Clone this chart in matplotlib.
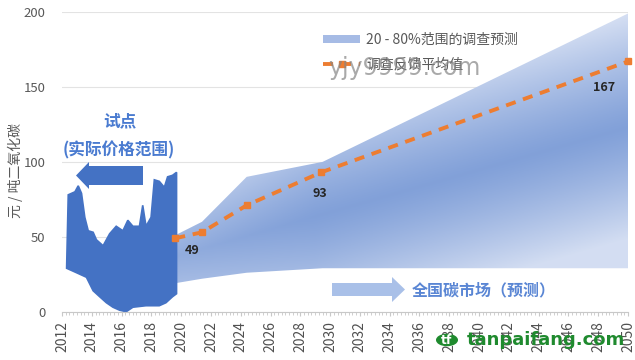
import numpy as np
import matplotlib
matplotlib.use('Agg')
import matplotlib.pyplot as plt
from matplotlib.patches import Polygon, Patch, Circle
from matplotlib.lines import Line2D
from matplotlib.ticker import MultipleLocator

plt.rcParams['font.family'] = ['Noto Sans CJK SC', 'DejaVu Sans']

# ---------------- data ----------------
pilot_hi_years = [2012.31, 2012.42, 2012.87, 2013.09, 2013.31, 2013.53, 2013.76, 2014.09,
                  2014.31, 2014.76, 2015.20, 2015.64, 2016.09, 2016.42, 2016.76, 2017.20,
                  2017.42, 2017.64, 2017.98, 2018.20, 2018.53, 2018.87, 2019.09, 2019.42, 2019.69]
pilot_hi = [29, 78, 80, 84, 79, 63, 54, 53, 48, 44, 52, 57, 54, 61, 57, 57, 71, 57, 63, 88,
            87, 83, 90, 91, 93]
pilot_lo_years = [2012.31, 2012.98, 2013.64, 2014.09, 2014.53, 2014.98, 2015.42, 2015.87,
                  2016.31, 2016.76, 2017.64, 2018.53, 2018.98, 2019.42, 2019.69]
pilot_lo = [29, 26, 23, 14, 10, 6, 3, 1, 0, 3, 4, 4, 6, 10, 12]

band_years = [2019.6, 2021.4, 2024.4, 2029.5, 2050]
band_low = [19, 22, 26, 29, 29]
band_high = [51, 60, 90, 100, 199]

mean_years = [2019.6, 2021.4, 2024.4, 2029.4, 2050]
mean_values = [49, 53, 71, 93, 167]
labelled_points = [0, 3, 4]

xticks = list(range(2012, 2051, 2))
yticks = [0, 50, 100, 150, 200]

legend_band = '20 - 80%范围的调查预测'
legend_mean = '调查反馈平均值'
y_label = '元 / 吨二氧化碳'
pilot_title = '试点'
pilot_sub = '(实际价格范围)'
national_text = '全国碳市场（预测）'

# ---------------- figure ----------------
W, H = 635, 360
fig = plt.figure(figsize=(W / 100, H / 100), dpi=100)

def px(x, y):
    return (x / W, 1 - y / H)

l, r, t, b = 62, 628, 12, 311.7
ax = fig.add_axes([l / W, 1 - b / H, (r - l) / W, (b - t) / H])
ax.set_xlim(2012, 2050)
ax.set_ylim(0, 200)

# forecast band with gradient
band = ax.fill_between(band_years, band_low, band_high, color='none', lw=0, zorder=1)
gx = np.linspace(2012, 2050, 300)
gy = np.linspace(0, 200, 200)
GX, GY = np.meshgrid(gx, gy)
centre = 38 + (GX - 2020) * 85 / 30
d = np.abs(GY - centre) / 75
tx = np.clip((2029 - GX) / 9, 0, 1) * 0.25
tt = np.clip(d + tx, 0, 1) ** 1.2
dark = np.array([0.51, 0.63, 0.85])
light = np.array([0.83, 0.87, 0.95])
img = dark[None, None, :] + (light - dark)[None, None, :] * tt[:, :, None]
im = ax.imshow(img, extent=[2012, 2050, 0, 200], origin='lower', aspect='auto', zorder=1)
im.set_clip_path(band.get_paths()[0], transform=ax.transData)
ax.set_xlim(2012, 2050)
ax.set_ylim(0, 200)

# pilot actual price range
ax.fill(np.r_[pilot_hi_years, pilot_lo_years[::-1]], np.r_[pilot_hi, pilot_lo[::-1]],
        color='#4472c4', lw=1.2, ec='#4472c4', zorder=3)

# mean line
ax.plot(mean_years, mean_values, color='#ed7d31', lw=2.8, dashes=(2.6, 2.0),
        marker='s', ms=5, zorder=4, clip_on=False)
offsets = {0: (17, -12), 3: (-1, -21), 4: (-24, -26)}
for i in labelled_points:
    ax.annotate(str(mean_values[i]), (mean_years[i], mean_values[i]),
                xytext=offsets[i], textcoords='offset pixels', ha='center', va='center',
                fontsize=9, fontweight='bold', color='#262626', zorder=5)

# axes styling
ax.set_yticks(yticks)
ax.set_xticks(xticks)
ax.set_xticklabels([str(x) for x in xticks], rotation=90)
ax.xaxis.set_minor_locator(MultipleLocator(0.25))
ax.grid(axis='y', color='#e3e3e3', lw=0.8, zorder=0)
ax.set_axisbelow(True)
for s in ['top', 'right', 'left']:
    ax.spines[s].set_visible(False)
ax.spines['bottom'].set_color('#c8c8c8')
ax.spines['bottom'].set_zorder(6)
ax.tick_params(axis='y', length=0, labelsize=9.5, labelcolor='#595959', pad=12)
ax.tick_params(axis='x', which='major', length=3, color='#c8c8c8', labelsize=10,
               labelcolor='#505050', pad=4)
ax.tick_params(axis='x', which='minor', length=2.5, color='#c8c8c8')
ax.patch.set_alpha(0)

fig.text(*px(15, 171), y_label, rotation=90, ha='center', va='center',
         fontsize=10, color='#595959')

# legend
handles = [Patch(facecolor='#a6bbe5', edgecolor='none'),
           Line2D([], [], color='#ed7d31', lw=2.8, dashes=(2.6, 2.0), marker='s', ms=5)]
leg = ax.legend(handles, [legend_band, legend_mean], loc='upper left',
                bbox_to_anchor=px(316, 26), bbox_transform=fig.transFigure,
                frameon=False, borderpad=0, handlelength=2.7, handleheight=0.5,
                handletextpad=0.4, labelspacing=0.75, fontsize=10, labelcolor='#595959')
leg.set_zorder(7)

# annotations: pilot
fig.text(*px(120, 121), pilot_title, ha='center', va='center', fontsize=12,
         fontweight='bold', color='#4a7bd0')
fig.text(*px(119, 150), pilot_sub, ha='center', va='center', fontsize=12,
         fontweight='bold', color='#4a7bd0')

def arrow_poly(pts, color):
    p = Polygon([px(x, y) for x, y in pts], closed=True, transform=fig.transFigure,
                facecolor=color, edgecolor='none', zorder=8)
    fig.add_artist(p)

# left arrow
arrow_poly([(143, 166), (89, 166), (89, 162), (76, 175.5), (89, 189), (89, 185), (143, 185)],
           '#4472c4')
# right arrow
arrow_poly([(332, 283), (392, 283), (392, 277), (405, 289.5), (392, 302), (392, 296), (332, 296)],
           '#a9c0e8')
fig.text(*px(484, 290), national_text, ha='center', va='center', fontsize=11.5,
         fontweight='bold', color='#5a86d4')

# watermarks
fig.text(*px(404, 68), 'yjy9999.com', ha='center', va='center', fontsize=17,
         family='DejaVu Sans', color='#858585', alpha=0.7, zorder=9)
fig.add_artist(Circle(px(447, 340), 11 / W, transform=fig.transFigure,
                      facecolor='#1f8a2e', edgecolor='none', zorder=9))
fig.text(*px(447, 340), 'tf', ha='center', va='center', fontsize=9, fontweight='bold',
         color='white', family='DejaVu Sans', zorder=10)
fig.text(*px(546, 340), 'tanpaifang.com', ha='center', va='center', fontsize=13,
         fontweight='bold', color='#1f8a2e', family='DejaVu Sans', zorder=9)

fig.savefig('out.png', dpi=100)
